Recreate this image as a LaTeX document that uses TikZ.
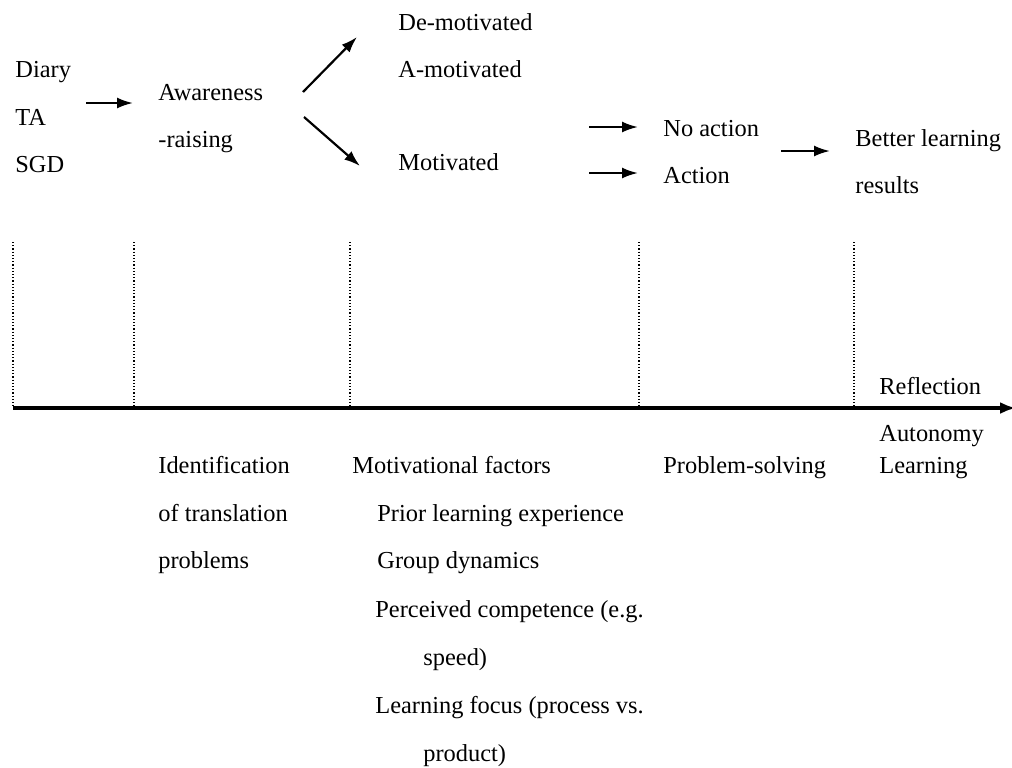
\documentclass[tikz,border=0pt]{standalone}
\usepackage{fontspec}
\setmainfont{Liberation Serif}
\usetikzlibrary{arrows.meta}
\begin{document}
\begin{tikzpicture}[x=0.5pt,y=-0.5pt,
  lbl/.style={anchor=base west,inner sep=0pt,font=\fontsize{12.2}{14}\selectfont},
  arr/.style={line width=1.1pt,-{Latex[length=8pt,width=5.5pt]}},
  axisline/.style={line width=1.6pt,-{Latex[length=8pt,width=6pt]}},
  sepline/.style={line width=0.6pt,dash pattern=on 0.6pt off 1pt}]
\useasboundingbox (0,0) rectangle (1012,767);
% top row texts
\node[lbl] (diary) at (15,77) {Diary};
\node[lbl] (ta) at (15,125) {TA};
\node[lbl] (sgd) at (15,172) {SGD};
\node[lbl] (aw) at (158,100) {Awareness};
\node[lbl] (ar) at (158,147) {-raising};
\node[lbl] (demot) at (398,30) {De-motivated};
\node[lbl] (amot) at (398,77) {A-motivated};
\node[lbl] (mot) at (398,170) {Motivated};
\node[lbl] (noact) at (663,136) {No action};
\node[lbl] (act) at (663,183) {Action};
\node[lbl] (better) at (855,146) {Better learning};
\node[lbl] (results) at (855,193) {results};
% arrow end points
\coordinate (a1s) at (86,103);  \coordinate (a1e) at (133,103);
\coordinate (ups) at (303,92);  \coordinate (upe) at (357,37);
\coordinate (dns) at (304,117); \coordinate (dne) at (360,166);
\coordinate (nas) at (589,127); \coordinate (nae) at (638,127);
\coordinate (acs) at (589,173); \coordinate (ace) at (638,173);
\coordinate (bts) at (781,151); \coordinate (bte) at (830,151);
\draw[arr] (a1s) -- (a1e);
\draw[arr] (ups) -- (upe);
\draw[arr] (dns) -- (dne);
\draw[arr] (nas) -- (nae);
\draw[arr] (acs) -- (ace);
\draw[arr] (bts) -- (bte);
% timeline
\coordinate (ax0) at (13,408);
\coordinate (ax1) at (1016,408);
\foreach \x/\n in {13/s1,134/s2,350/s3,639/s4,854/s5}{
  \coordinate (\n t) at (\x,242);
  \coordinate (\n b) at (\x,408);
  \draw[sepline] (\n t) -- (\n b);
}
\draw[axisline] (ax0) -- (ax1);
% labels near axis
\node[lbl] (refl) at (879,394) {Reflection};
\node[lbl] (auto) at (879,441) {Autonomy};
\node[lbl] (learn) at (879,473) {Learning};
% bottom texts
\node[lbl] (ident) at (158,473) {Identification};
\node[lbl] (oftr) at (158,521) {of translation};
\node[lbl] (probs) at (158,568) {problems};
\node[lbl] (motf) at (352,473) {Motivational factors};
\node[lbl] (prior) at (377,521) {Prior learning experience};
\node[lbl] (group) at (377,568) {Group dynamics};
\node[lbl] (perc) at (375,617) {Perceived competence (e.g.};
\node[lbl] (speed) at (423,665) {speed)};
\node[lbl] (focus) at (375,713) {Learning focus (process vs.};
\node[lbl] (product) at (423,761) {product)};
\node[lbl] (psolve) at (663,473) {Problem-solving};
\end{tikzpicture}
\end{document}
